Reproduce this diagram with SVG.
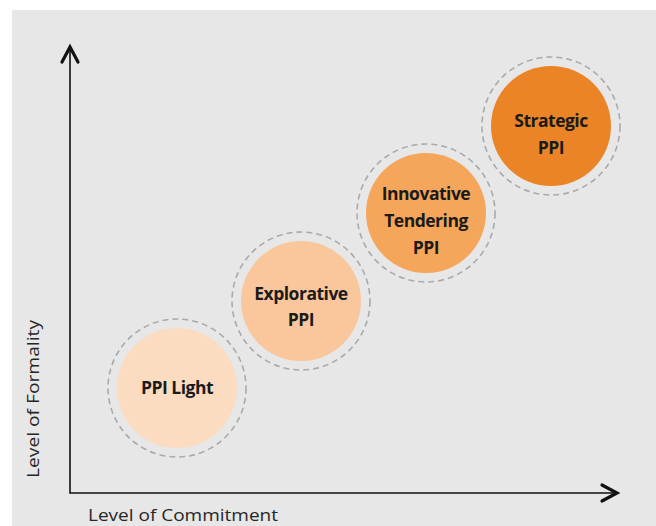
<svg xmlns="http://www.w3.org/2000/svg" width="656" height="526" viewBox="0 0 656 526">
  <style>
    .ring { fill: none; stroke: #a9aaaa; stroke-width: 1.6; stroke-dasharray: 6 4; }
    .label { font-family: "Open Sans", "Liberation Sans", sans-serif; font-weight: 700; font-size: 17.5px; fill: #1a1a1a; text-anchor: middle; letter-spacing: -0.5px; }
    .axis-label { font-family: "Open Sans", "Liberation Sans", sans-serif; font-size: 16px; fill: #262626; }
    .axis { stroke: #111; stroke-width: 1.6; fill: none; }
    .head { stroke: #111; stroke-width: 3.2; fill: none; stroke-linecap: round; stroke-linejoin: miter; }
  </style>
  <rect x="0" y="0" width="656" height="526" fill="#ffffff"/>
  <rect x="12" y="10" width="644" height="516" fill="#e6e7e6"/>

  <g id="axes">
    <path class="axis" d="M70,47 V493 H617"/>
    <path class="head" d="M62,62 L70,47 L78,62"/>
    <path class="head" d="M602,485 L617,493 L602,501"/>
    <text class="axis-label" x="88" y="521" textLength="190" lengthAdjust="spacingAndGlyphs">Level of Commitment</text>
    <text class="axis-label" transform="translate(38.5,478) rotate(-90)" textLength="158" lengthAdjust="spacingAndGlyphs">Level of Formality</text>
  </g>

  <g id="connectors"></g>

  <g id="node-ppi-light">
    <circle class="ring" cx="177" cy="388" r="69"/>
    <circle cx="177" cy="388" r="60" fill="#fbdcc0"/>
    <text class="label" x="177" y="394">PPI Light</text>
  </g>

  <g id="node-explorative">
    <circle class="ring" cx="301" cy="301" r="69"/>
    <circle cx="301" cy="301" r="60" fill="#f9c79b"/>
    <text class="label" x="301" y="300">Explorative</text>
    <text class="label" x="301" y="326">PPI</text>
  </g>

  <g id="node-innovative">
    <circle class="ring" cx="426" cy="213" r="69"/>
    <circle cx="426" cy="213" r="60" fill="#f5a65a"/>
    <text class="label" x="426" y="200">Innovative</text>
    <text class="label" x="426" y="227">Tendering</text>
    <text class="label" x="426" y="254">PPI</text>
  </g>

  <g id="node-strategic">
    <circle class="ring" cx="551" cy="126" r="69"/>
    <circle cx="551" cy="126" r="60" fill="#eb8427"/>
    <text class="label" x="551" y="127">Strategic</text>
    <text class="label" x="551" y="154">PPI</text>
  </g>
</svg>
